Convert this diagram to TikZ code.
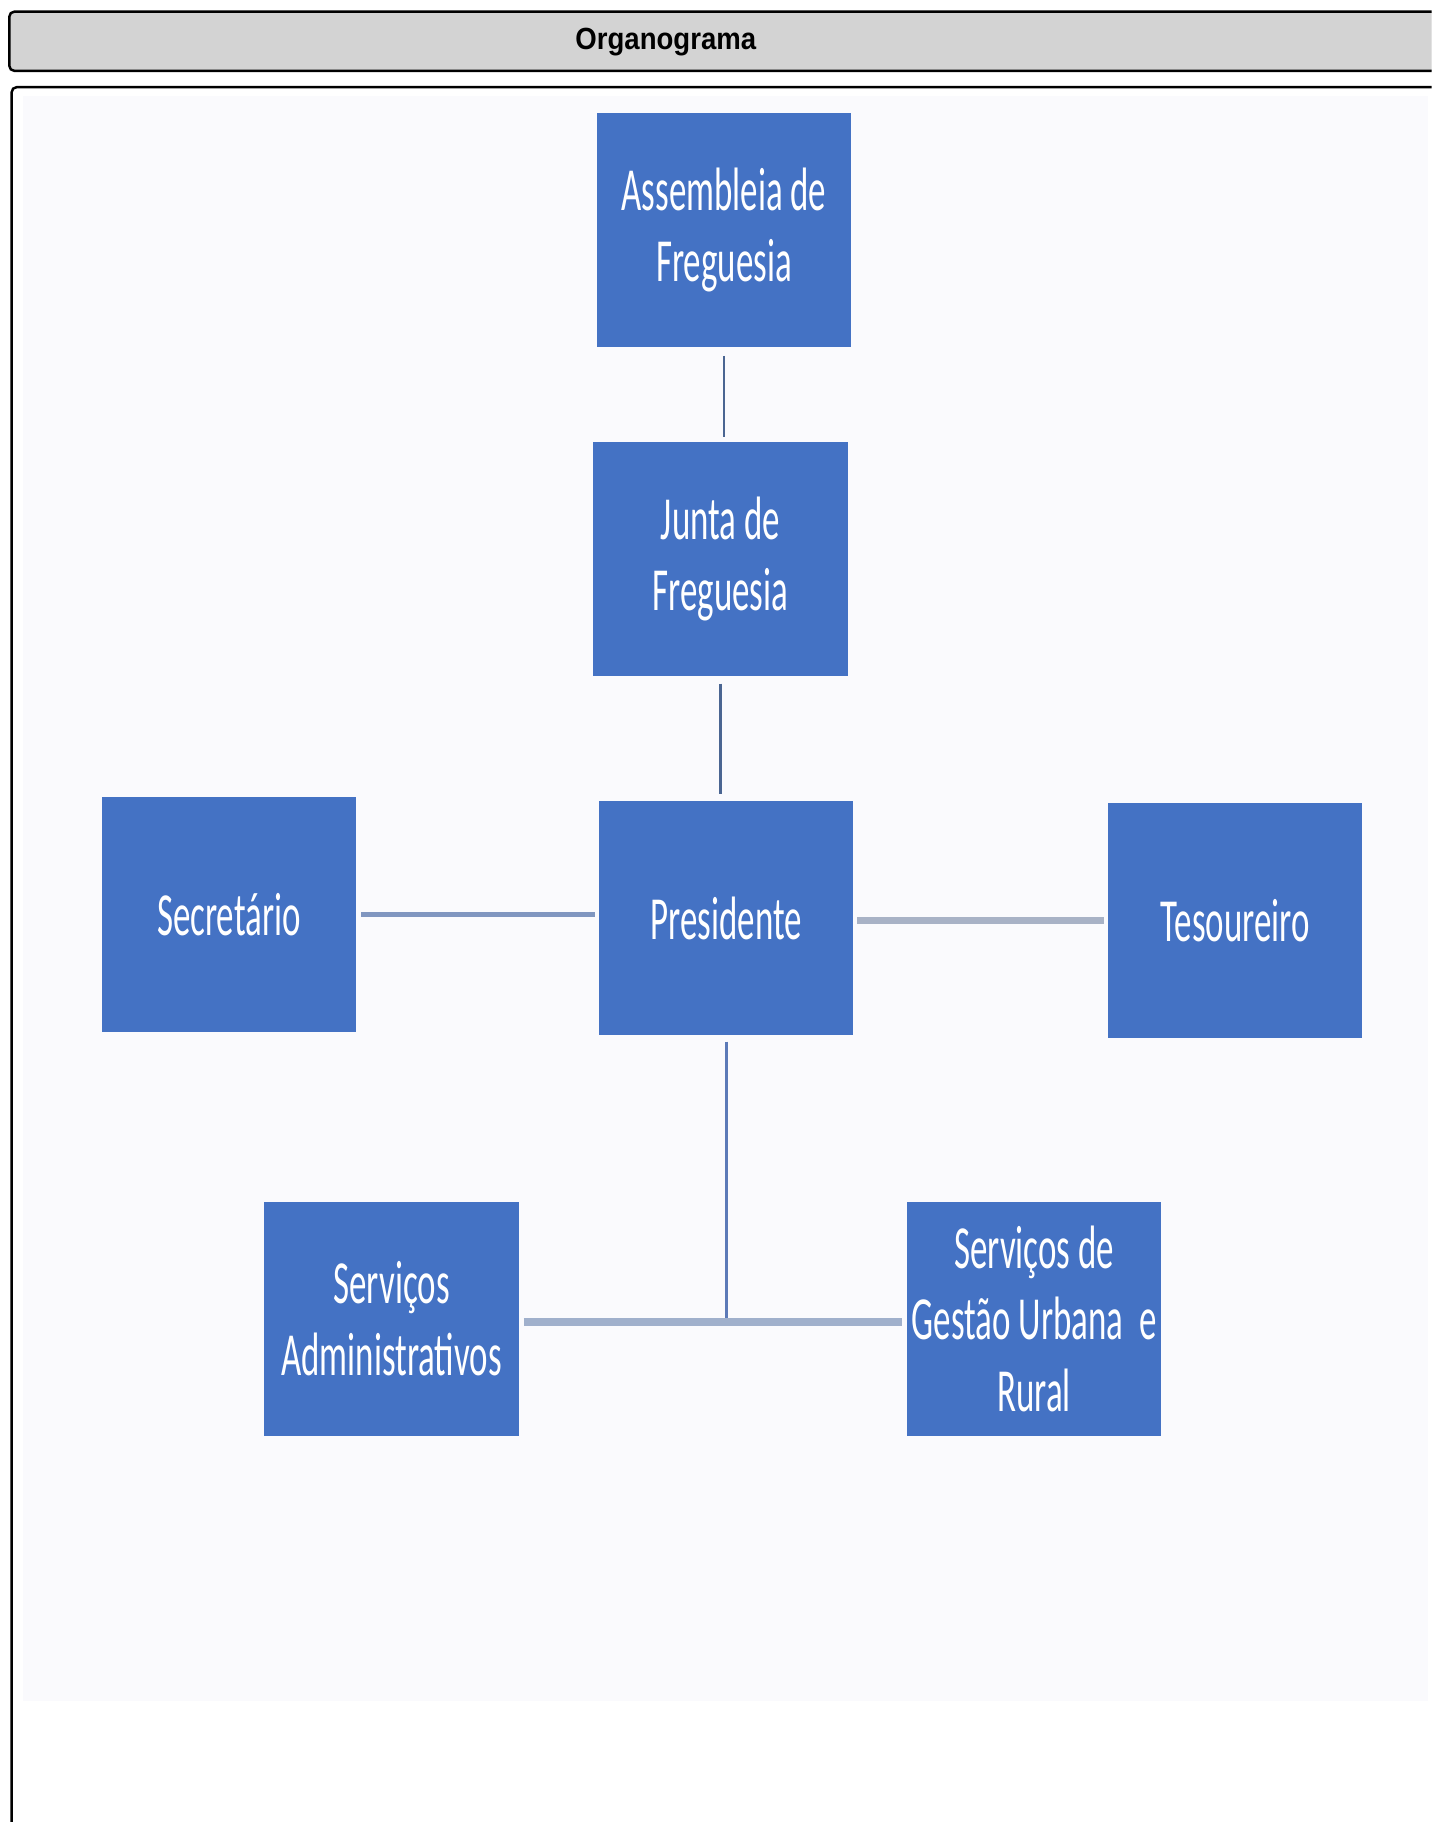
\documentclass[tikz,border=0pt]{standalone}
\usepackage{fontspec}
\setmainfont{Liberation Sans}
\newfontfamily\boxfont[FakeStretch=0.57]{Carlito}
\newfontfamily\headfont[FakeStretch=0.9]{Liberation Sans}

\definecolor{boxblue}{RGB}{68,114,196}
\definecolor{pale}{RGB}{250,250,253}
\definecolor{headgray}{RGB}{211,211,211}
\definecolor{linedark}{RGB}{74,101,146}
\definecolor{linemid}{RGB}{92,122,184}
\definecolor{linesec}{RGB}{128,150,192}
\definecolor{linegray}{RGB}{168,178,198}
\definecolor{linebar}{RGB}{160,176,204}

\begin{document}
\begin{tikzpicture}[x=0.02cm,y=-0.02cm,
  post/.style={rectangle,fill=boxblue,text=white,minimum width=4.38cm,minimum height=4.04cm,inner sep=0pt,align=center,font=\boxfont\fontsize{30}{35}\selectfont},
  toplink/.style={draw=linedark,line width=1.1pt},
  downlink/.style={draw=linemid,line width=1.6pt},
  seclink/.style={draw=linesec,line width=2.3pt},
  teslink/.style={draw=linegray,line width=3.4pt},
  barlink/.style={draw=linebar,line width=4pt}]
\useasboundingbox (0,0) rectangle (1232,1568);
\clip (0,0) rectangle (1232,1568);
\fill[white] (0,0) rectangle (1232,1568);

% frames
\draw[fill=headgray,rounded corners=2.5pt,line width=1.2pt] (8,10) rectangle (1260,61);
\node[font=\headfont\bfseries\fontsize{15}{18}\selectfont] (head) at (573,36) {Organograma};
\draw[rounded corners=2.5pt,line width=1.2pt] (10,75) rectangle (1260,1600);
\fill[pale] (20,83) rectangle (1229,1464);

% posts
\node[post] (1) at (623,198) {Assembleia de\\Freguesia};
\node[post] (2) at (620,481) {Junta de\\Freguesia};
\node[post] (3) at (625,790) {Presidente};
\node[post] (4) at (197,787) {Secretário};
\node[post] (5) at (1063,792) {Tesoureiro};
\node[post] (6) at (337,1135) {Serviços\\Administrativos};
\node[post] (7) at (890,1135) {Serviços de\\Gestão Urbana~ e\\Rural};
\coordinate (j) at (625,1138);

% links
\draw[toplink,shorten <=1.4mm,shorten >=0.8mm] (1.south) -- (1.south |- 2.north);
\draw[toplink,shorten <=1.2mm,shorten >=1mm] (2.south) -- (2.south |- 3.north);
\draw[seclink,shorten <=0.8mm,shorten >=0.6mm] (4.east) -- (4.east -| 3.west);
\draw[teslink,shorten <=0.6mm,shorten >=0.6mm] (5.west -| 3.east) -- (5.west);
\draw[downlink,shorten <=1mm] (3.south) -- (j);
\draw[barlink,shorten <=0.8mm,shorten >=0.8mm] (6.east |- j) -- (7.west |- j);

\end{tikzpicture}
\end{document}
